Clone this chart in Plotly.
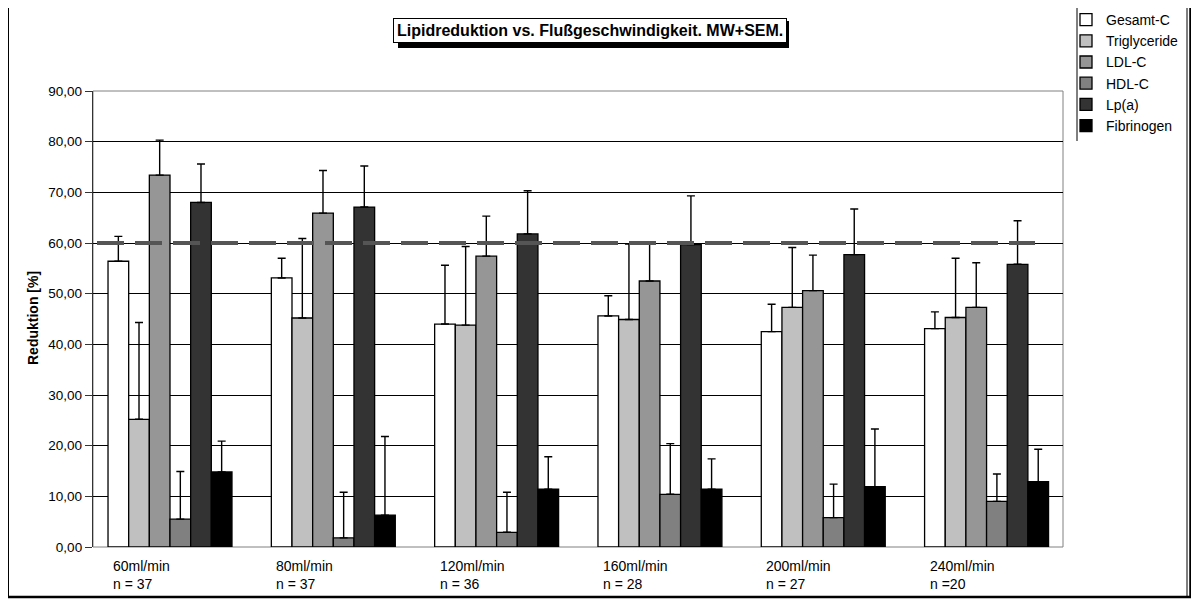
import plotly.graph_objects as go

# ---------------- data ----------------
groups = ["60ml/min", "80ml/min", "120ml/min", "160ml/min", "200ml/min", "240ml/min"]
n_labels = ["n = 37", "n = 37", "n = 36", "n = 28", "n = 27", "n =20"]
series_names = ["Gesamt-C", "Triglyceride", "LDL-C", "HDL-C", "Lp(a)", "Fibrinogen"]

gesamt_c = [56.4, 53.1, 44.0, 45.6, 42.5, 43.1]
gesamt_c_sem = [4.9, 3.9, 11.6, 4.0, 5.4, 3.3]
triglyceride = [25.2, 45.2, 43.8, 44.9, 47.3, 45.3]
triglyceride_sem = [19.1, 15.7, 15.5, 14.9, 11.8, 11.7]
ldl_c = [73.4, 65.9, 57.4, 52.5, 50.6, 47.3]
ldl_c_sem = [6.9, 8.4, 7.9, 7.3, 7.0, 8.8]
hdl_c = [5.5, 1.8, 2.9, 10.4, 5.8, 9.0]
hdl_c_sem = [9.4, 9.0, 7.9, 10.0, 6.6, 5.4]
lpa = [68.0, 67.1, 61.8, 59.7, 57.7, 55.8]
lpa_sem = [7.6, 8.1, 8.5, 9.6, 9.0, 8.6]
fibrinogen = [14.8, 6.3, 11.4, 11.4, 11.9, 12.9]
fibrinogen_sem = [6.1, 15.5, 6.4, 6.0, 11.4, 6.4]

threshold = 60
y_ticks = [0, 10, 20, 30, 40, 50, 60, 70, 80, 90]

# ---------------- style ----------------
colors = ["#ffffff", "#c0c0c0", "#969696", "#808080", "#333333", "#000000"]
FONT = "Liberation Sans, Arial, sans-serif"

OFF = 8  # page body margin
W, H = 1199 - OFF, 599 - OFF
# plot area in page pixels
PL, PR, PT, PB = 93, 1063, 91, 547
L, R, T, B = PL - OFF, PR - OFF, PT - OFF, PB - OFF


def px_x(p):
    return (p - PL) / (PR - PL)


def px_y(p):
    return (PB - p) / (PB - PT)


values = [gesamt_c, triglyceride, ldl_c, hdl_c, lpa, fibrinogen]
sems = [gesamt_c_sem, triglyceride_sem, ldl_c_sem, hdl_c_sem, lpa_sem, fibrinogen_sem]
xpos = list(range(len(groups)))

fig = go.Figure()
for name, vals, sem, col in zip(series_names, values, sems, colors):
    fig.add_trace(go.Bar(
        x=xpos, y=vals, name=name,
        marker=dict(color=col, line=dict(color="#000000", width=1.3)),
        error_y=dict(type="data", symmetric=False, array=sem,
                     arrayminus=[0] * len(sem), color="#000000",
                     thickness=1.4, width=4),
    ))

shapes = []
# plot border (gray)
shapes.append(dict(type="rect", xref="paper", yref="paper", x0=0, x1=1, y0=0, y1=1,
                   line=dict(color="#808080", width=1), layer="below"))
# threshold dashed line
shapes.append(dict(type="line", xref="paper", yref="y", x0=px_x(97), x1=px_x(1035),
                   y0=threshold, y1=threshold,
                   line=dict(color="#555555", width=4, dash="27px,11px"), layer="above"))
# outer frame
shapes.append(dict(type="line", xref="paper", yref="paper", x0=px_x(8), x1=px_x(8),
                   y0=px_y(6), y1=px_y(597), line=dict(color="#000000", width=2)))
shapes.append(dict(type="line", xref="paper", yref="paper", x0=px_x(8), x1=px_x(1192),
                   y0=px_y(6), y1=px_y(6), line=dict(color="#000000", width=2)))
shapes.append(dict(type="line", xref="paper", yref="paper", x0=px_x(8), x1=px_x(1192),
                   y0=px_y(597), y1=px_y(597), line=dict(color="#000000", width=2.5)))
shapes.append(dict(type="line", xref="paper", yref="paper", x0=px_x(1187), x1=px_x(1187),
                   y0=px_y(6), y1=px_y(597), line=dict(color="#000000", width=1)))
shapes.append(dict(type="line", xref="paper", yref="paper", x0=px_x(1190.5), x1=px_x(1190.5),
                   y0=px_y(6), y1=px_y(597), line=dict(color="#000000", width=2.5)))
# legend left border
shapes.append(dict(type="line", xref="paper", yref="paper", x0=px_x(1077), x1=px_x(1077),
                   y0=px_y(6), y1=px_y(141), line=dict(color="#000000", width=1)))
# title box drop shadow
shapes.append(dict(type="rect", xref="paper", yref="paper", x0=px_x(398), x1=px_x(789),
                   y0=px_y(48), y1=px_y(21), fillcolor="#000000",
                   line=dict(color="#000000", width=0), layer="above"))

annotations = []
title_text = "<b>Lipidreduktion vs. Flußgeschwindigkeit. MW+SEM.</b>"
annotations.append(dict(text=title_text, xref="paper", yref="paper",
                        x=px_x(589.5), y=px_y(30.5),
                        xanchor="center", yanchor="middle", showarrow=False,
                        font=dict(family=FONT, size=16, color="#000000"),
                        bgcolor="#ffffff", bordercolor="#000000", borderwidth=1, borderpad=3))
# y-axis title
annotations.append(dict(text="<b>Reduktion [%]</b>", xref="paper", yref="paper",
                        x=px_x(33), y=px_y(318), textangle=-90, showarrow=False,
                        xanchor="center", yanchor="middle",
                        font=dict(family=FONT, size=14, color="#000000")))
# category labels (left aligned, two lines)
for i, (g, n) in enumerate(zip(groups, n_labels)):
    annotations.append(dict(text=g + "<br>" + n, xref="x", yref="paper", x=i, y=px_y(556),
                            xanchor="left", yanchor="top", align="left", xshift=-59,
                            showarrow=False,
                            font=dict(family=FONT, size=14, color="#000000")))

fig.update_layout(
    width=W, height=H,
    margin=dict(l=L, r=W - R, t=T, b=H - B, pad=0, autoexpand=False),
    paper_bgcolor="#ffffff", plot_bgcolor="#ffffff",
    barmode="group", bargap=0.241, bargroupgap=0,
    separators=", ",
    font=dict(family=FONT, size=13, color="#000000"),
    showlegend=True,
    legend=dict(x=px_x(1066), y=px_y(4), xanchor="left", yanchor="top",
                bgcolor="rgba(0,0,0,0)", borderwidth=0,
                font=dict(family=FONT, size=14, color="#000000"),
                itemwidth=30, tracegroupgap=0),
    xaxis=dict(range=[-0.4715, 5.468], showticklabels=False, ticks="",
               showgrid=False, zeroline=False, showline=False,
               tickvals=xpos),
    yaxis=dict(range=[0, 90], tickvals=y_ticks, tickformat=".2f",
               showgrid=True, gridcolor="#000000", gridwidth=1,
               zeroline=False, showline=True, linecolor="#333333", linewidth=1.3,
               ticks="outside", ticklen=7, tickcolor="#333333", tickwidth=1,
               tickfont=dict(family=FONT, size=13.5, color="#000000")),
    shapes=shapes,
    annotations=annotations,
)

fig.write_html("out.html")
